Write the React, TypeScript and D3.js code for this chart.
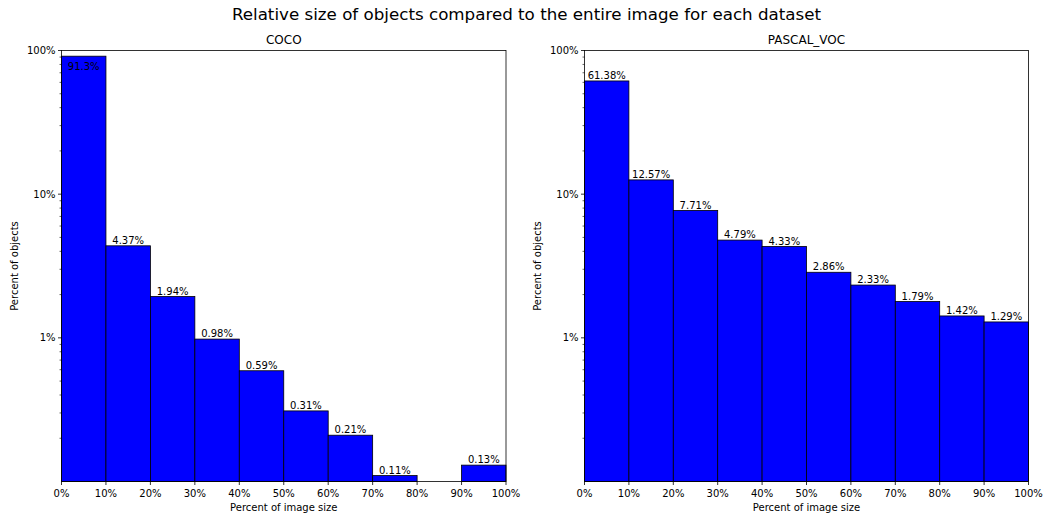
import React from "react";
import * as d3 from "d3";

// Histogram bins (percent of image area) and share of objects per bin
const binEdges = [0, 10, 20, 30, 40, 50, 60, 70, 80, 90, 100];
const cocoValues: (number | null)[] = [91.3, 4.37, 1.94, 0.98, 0.59, 0.31, 0.21, 0.11, null, 0.13];
const vocValues: (number | null)[] = [61.38, 12.57, 7.71, 4.79, 4.33, 2.86, 2.33, 1.79, 1.42, 1.29];
const xTickValues = [0, 10, 20, 30, 40, 50, 60, 70, 80, 90, 100];
const yMajorTicks = [1, 10, 100];
const datasetNames = ["COCO", "PASCAL_VOC"];

const W = 1047;
const H = 518;
const FONT = "DejaVu Sans, sans-serif";

const top = 50.5;
const bottom = 481.5;
const panels = [
  { left: 61.5, right: 506, values: cocoValues, name: datasetNames[0] },
  { left: 584.5, right: 1028.5, values: vocValues, name: datasetNames[1] },
];

function fmt(v: number) {
  return `${+v.toFixed(2)}%`;
}

function Panel({ left, right, values, name }: { left: number; right: number; values: (number | null)[]; name: string }) {
  const x = d3.scaleLinear().domain([0, 100]).range([left, right]);
  const y = d3.scaleLog().domain([0.1, 100]).range([bottom, top]);
  const minor: number[] = [];
  for (const dec of [0.1, 1, 10]) for (let k = 2; k <= 9; k++) minor.push(dec * k);

  return (
    <g>
      {values.map((v, i) => {
        if (v == null) return null;
        const x0 = x(binEdges[i]);
        const x1 = x(binEdges[i + 1]);
        const yt = y(v);
        return (
          <rect key={i} x={x0} y={yt} width={x1 - x0} height={bottom - yt} fill="#0000ff" stroke="#000" strokeWidth={0.8} />
        );
      })}
      {values.map((v, i) => {
        if (v == null) return null;
        const cx = (x(binEdges[i]) + x(binEdges[i + 1])) / 2;
        const yt = y(v);
        const inside = yt - 14 < top;
        return (
          <text key={"l" + i} x={cx} y={inside ? yt + 14 : yt - 1.8} textAnchor="middle" fontSize={10} fontFamily={FONT} fill="#000">
            {fmt(v)}
          </text>
        );
      })}
      {/* frame */}
      <rect x={left} y={top} width={right - left} height={bottom - top} fill="none" stroke="#000" strokeWidth={0.8} />
      {/* x ticks */}
      {xTickValues.map((t) => (
        <g key={"xt" + t}>
          <line x1={x(t)} x2={x(t)} y1={bottom} y2={bottom + 3.5} stroke="#000" strokeWidth={0.8} />
          <text x={x(t)} y={bottom + 15.5} textAnchor="middle" fontSize={10} fontFamily={FONT} fill="#000">{`${t}%`}</text>
        </g>
      ))}
      {/* y ticks */}
      {yMajorTicks.map((t) => (
        <g key={"ym" + t}>
          <line x1={left - 3.5} x2={left} y1={y(t)} y2={y(t)} stroke="#000" strokeWidth={0.8} />
          <text x={left - 6} y={y(t) + 3.5} textAnchor="end" fontSize={10} fontFamily={FONT} fill="#000">{`${t}%`}</text>
        </g>
      ))}
      {minor.map((t) => (
        <line key={"yn" + t} x1={left - 2} x2={left} y1={y(t)} y2={y(t)} stroke="#000" strokeWidth={0.6} />
      ))}
      <text x={(left + right) / 2} y={bottom + 29.5} textAnchor="middle" fontSize={10} fontFamily={FONT} fill="#000">Percent of image size</text>
      <text transform={`translate(${left - 44},${(top + bottom) / 2}) rotate(-90)`} textAnchor="middle" fontSize={10} fontFamily={FONT} fill="#000">Percent of objects</text>
      <text x={(left + right) / 2} y={top - 6.5} textAnchor="middle" fontSize={12} fontFamily={FONT} fill="#000">{name}</text>
    </g>
  );
}

export default function App() {
  return (
    <svg width={W} height={H} style={{ position: "absolute", left: 0, top: 0, background: "#fff" }}>
      <rect width={W} height={H} fill="#fff" />
      <text x={526.5} y={19.5} textAnchor="middle" fontSize={16.7} fontFamily={FONT} fill="#000">
        Relative size of objects compared to the entire image for each dataset
      </text>
      {panels.map((p) => (
        <Panel key={p.name} {...p} />
      ))}
    </svg>
  );
}
